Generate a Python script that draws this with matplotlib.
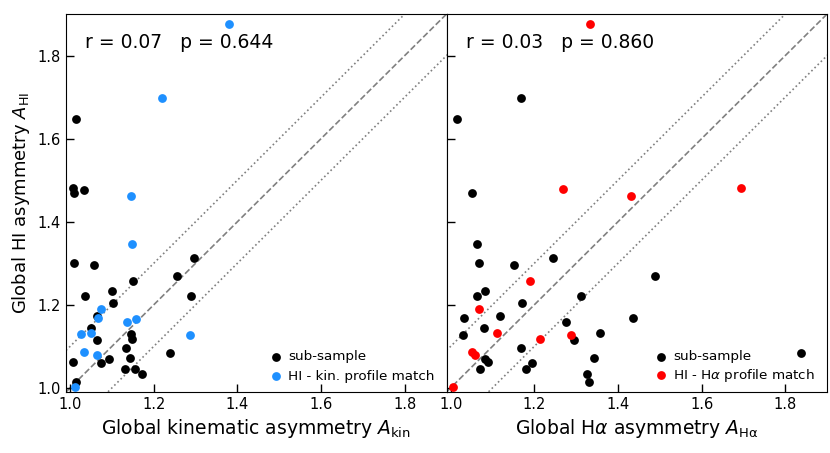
import matplotlib
matplotlib.use('Agg')
import matplotlib.pyplot as plt
import numpy as np

# left panel: kinematic asymmetry vs HI asymmetry
kin_sub_x = [1.014, 1.006, 1.0095, 1.033, 1.0095, 1.057, 1.295, 1.256, 1.150, 1.099,
             1.036, 1.102, 1.288, 1.065, 1.049, 1.145, 1.147, 1.064, 1.134, 1.238,
             1.142, 1.094, 1.006, 1.073, 1.132, 1.156, 1.171, 1.014]
kin_sub_y = [1.648, 1.480, 1.470, 1.477, 1.301, 1.296, 1.313, 1.269, 1.258, 1.234,
             1.222, 1.205, 1.222, 1.174, 1.145, 1.129, 1.118, 1.116, 1.095, 1.084,
             1.071, 1.069, 1.062, 1.060, 1.045, 1.045, 1.033, 1.015]
kin_match_x = [1.379, 1.219, 1.145, 1.149, 1.073, 1.067, 1.137, 1.157, 1.027, 1.049,
               1.287, 1.033, 1.063, 1.011]
kin_match_y = [1.876, 1.697, 1.462, 1.346, 1.190, 1.168, 1.159, 1.166, 1.130, 1.131,
               1.128, 1.087, 1.078, 1.002]

# right panel: Halpha asymmetry vs HI asymmetry
ha_sub_x = [1.167, 1.014, 1.050, 1.063, 1.067, 1.151, 1.245, 1.488, 1.082, 1.064,
            1.171, 1.312, 1.032, 1.118, 1.436, 1.079, 1.275, 1.029, 1.295, 1.357,
            1.168, 1.082, 1.088, 1.342, 1.195, 1.071, 1.181, 1.327, 1.330, 1.837]
ha_sub_y = [1.698, 1.648, 1.470, 1.346, 1.301, 1.296, 1.313, 1.270, 1.234, 1.222,
            1.205, 1.222, 1.168, 1.174, 1.167, 1.145, 1.159, 1.127, 1.116, 1.131,
            1.095, 1.070, 1.062, 1.071, 1.060, 1.045, 1.045, 1.033, 1.015, 1.084]
ha_match_x = [1.334, 1.269, 1.430, 1.695, 1.190, 1.068, 1.111, 1.213, 1.287, 1.052,
              1.058, 1.006]
ha_match_y = [1.876, 1.478, 1.462, 1.480, 1.258, 1.190, 1.132, 1.118, 1.128, 1.087,
              1.078, 1.002]

stats = ['r = 0.07   p = 0.644', 'r = 0.03   p = 0.860']

fig, axes = plt.subplots(1, 2, sharey=True, figsize=(8.3, 4.53), dpi=100)
fig.subplots_adjust(left=0.0795, right=0.9965, bottom=0.1347, top=0.969, wspace=0)

panels = [
    (kin_sub_x, kin_sub_y, kin_match_x, kin_match_y, 'dodgerblue',
     'HI - kin. profile match', r'Global kinematic asymmetry $A_{\rm kin}$', 0.5, -0.008),
    (ha_sub_x, ha_sub_y, ha_match_x, ha_match_y, 'red',
     r'HI - H$\alpha$ profile match', r'Global H$\alpha$ asymmetry $A_{\rm H\alpha}$', 0.29, -0.011),
]

line = np.array([0.9, 2.0])
for ax, (sx, sy, mx, my, col, mlab, xlab, lsp, ydrop), txt in zip(axes, panels, stats):
    ax.plot(line, line, '--', color='gray', lw=1.2, zorder=1)
    ax.plot(line, line + 0.1, ':', color='gray', lw=1.2, zorder=1)
    ax.plot(line, line - 0.1, ':', color='gray', lw=1.2, zorder=1)
    ax.scatter(sx, sy, s=40, color='black', linewidths=0, label='sub-sample', zorder=3)
    ax.scatter(mx, my, s=40, color=col, linewidths=0, label=mlab, zorder=3)
    ax.set_xlim(0.99, 1.9)
    ax.set_ylim(0.99, 1.9)
    ax.set_xticks([1.0, 1.2, 1.4, 1.6, 1.8])
    ax.set_yticks([1.0, 1.2, 1.4, 1.6, 1.8])
    ax.tick_params(direction='in', length=6, width=1, labelsize=10.5)
    ax.set_xlabel(xlab, fontsize=13.5)
    ax.text(0.05, 0.91, txt, transform=ax.transAxes, fontsize=13.5, va='baseline')
    ax.legend(loc='lower right', bbox_to_anchor=(1.0, ydrop), frameon=False,
              fontsize=9.7, handlelength=1, handletextpad=0.4, scatterpoints=1,
              labelspacing=lsp)

axes[0].set_ylabel(r'Global HI asymmetry $A_{\rm HI}$', fontsize=13)
axes[1].tick_params(labelleft=False)

plt.savefig('out.png', dpi=100)
